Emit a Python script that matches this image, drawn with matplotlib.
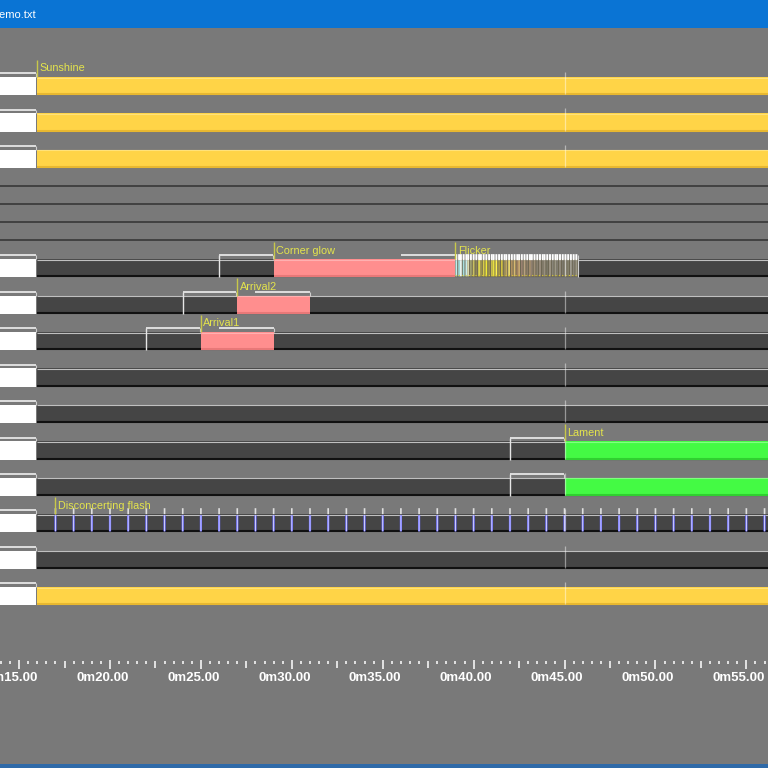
import matplotlib.pyplot as plt
from matplotlib.transforms import offset_copy

# ---------------------------------- data ---------------------------------- #

view_start, view_end = 13.95, 56.19     # seconds visible in the window
show_end = 60.0
fade = 3.0                               # fade time drawn before / after a cue
cursor_time = 45.0

# track heights, top to bottom (1 = normal track, 0.5 = collapsed empty track)
track_size = [1, 1, 1, 0.5, 0.5, 0.5, 0.5, 1, 1, 1, 1, 1, 1, 1, 1, 1, 1]

cue_track = [0, 1, 2, 16, 7, 8, 9, 10, 11, 12, 13, 14, 15, 7, 8, 9, 12, 13]
cue_start = [16, 16, 16, 16, 16, 16, 16, 16, 16, 16, 16, 16, 16, 29, 27, 25, 45, 45]
cue_end = [60, 60, 60, 60, 60, 60, 60, 60, 60, 60, 60, 60, 60, 39, 31, 29, 60, 60]
cue_color = ['yellow', 'yellow', 'yellow', 'yellow', 'dark', 'dark', 'dark', 'dark',
             'dark', 'dark', 'dark', 'dark', 'dark', 'pink', 'pink', 'pink',
             'green', 'green']
cue_label = ['Sunshine', '', '', '', '', '', '', '', '', '', '', '', '',
             'Corner glow', 'Arrival2', 'Arrival1', 'Lament', '']

# flicker effect on the Corner glow track
flicker_track = 7
flicker_start, flicker_end = 39.0, 45.75
flicker_times = [39.05, 39.2, 39.3, 39.45, 39.6, 39.7, 39.85, 40.0, 40.15, 40.3,
                 40.4, 40.55, 40.7, 40.85, 41.0, 41.1, 41.25, 41.4, 41.55, 41.7,
                 41.8, 41.95, 42.1, 42.25, 42.4, 42.5, 42.65, 42.8, 42.95, 43.1,
                 43.2, 43.35, 43.5, 43.65, 43.8, 43.9, 44.05, 44.2, 44.35, 44.5,
                 44.6, 44.75, 44.9, 45.05, 45.2, 45.35, 45.5, 45.65]
flicker_color = ['#bfeeee', '#9fd8d8', '#e8f4f0', '#a8dede', '#c8ecec', '#d8d8b0',
                 '#a0a070', '#c8c060', '#8c8458', '#e0d850', '#a49a50', '#d8cc48',
                 '#f0e838', '#9c9050', '#c8bc48', '#e8e040', '#fff050', '#a89848',
                 '#d0c040', '#9a8c58', '#c0a860', '#e8d870', '#b09060', '#d8b870',
                 '#a08060', '#c8a870', '#988070', '#b8a080', '#8c7c68', '#a89070',
                 '#908070', '#a09078', '#888070', '#9c9080', '#807868', '#989080',
                 '#7c7868', '#a09888', '#888478', '#9c9888', '#807c70', '#948c80',
                 '#7c786c', '#9c988c', '#84806c', '#a09c90', '#888478', '#9c9888']

# strobe track
flash_track = 14
flash_label = 'Disconcerting flash'
flash_times = [17, 18, 19, 20, 21, 22, 23, 24, 25, 26, 27, 28, 29, 30, 31, 32, 33,
               34, 35, 36, 37, 38, 39, 40, 41, 42, 43, 44, 45, 46, 47, 48, 49, 50,
               51, 52, 53, 54, 55, 56]

time_labels = [15, 20, 25, 30, 35, 40, 45, 50, 55]

# --------------------------------- styling -------------------------------- #

fills = {'yellow': '#ffd447', 'dark': '#454545', 'pink': '#ff8e8e', 'green': '#44fa44'}
tops = {'yellow': '#ffe27a', 'dark': '#c0c0c0', 'pink': '#ffb0b0', 'green': '#80ff80'}
bottoms = {'yellow': '#e8b830', 'dark': '#111111', 'pink': '#e87878', 'green': '#30d030'}

bg = '#797979'
label_yellow = '#e4e44c'
marker_yellow = '#c8c84a'
fade_white = '#e6e6e6'

row_pitch = 36.43
first_row_top = 58.8
head = row_pitch / 2
px = 1 / 18.18          # one pixel in seconds

plt.rcParams['font.family'] = ['Liberation Sans', 'DejaVu Sans']

fig = plt.figure(figsize=(7.68, 7.68), dpi=100, facecolor=bg)
ax = fig.add_axes([0, 0, 1, 1])
ax.set_facecolor(bg)
ax.set_xlim(view_start, view_end)
ax.set_ylim(768, 0)
ax.axis('off')

# row positions
row_top = []
y = first_row_top
for s in track_size:
    row_top.append(y)
    y += s * row_pitch

# collapsed tracks: just a dark line at the bottom
for i, s in enumerate(track_size):
    if s < 1:
        ax.hlines(row_top[i] + s * row_pitch - 0.5, view_start, view_end,
                  color='#383838', lw=1.2, zorder=1)

# white pre-show box on every normal track
for i, s in enumerate(track_size):
    if s == 1:
        bt = row_top[i] + head
        ax.barh(bt + head / 2, 16 - px - (view_start - 1), left=view_start - 1,
                height=head, color='white', lw=0, zorder=2)

# cue bars
for k in range(len(cue_track)):
    bt = row_top[cue_track[k]] + head
    s, e, c = cue_start[k], cue_end[k], cue_color[k]
    z = 3 if c == 'dark' else 4
    ax.barh(bt + head / 2, e - s, left=s, height=head, color=fills[c], lw=0, zorder=z)
    ax.hlines(bt + 0.5, s, e, color=tops[c], lw=0.8, zorder=z)
    ax.hlines(bt + head - 1.0, s, e, color=bottoms[c], lw=1.5, zorder=z)

# flicker block
bt = row_top[flicker_track] + head
ax.barh(bt + head / 2, flicker_end - flicker_start, left=flicker_start, height=head,
        color='#6a6450', lw=0, zorder=5)
ax.vlines(flicker_times, bt + 1, bt + head - 1, colors=flicker_color, lw=1.3,
          zorder=5, snap=False)
ax.vlines(flicker_times, bt - 5, bt + 1, colors='white', lw=1.4, zorder=5, snap=False)
ax.hlines(bt + head - 2, flicker_start, flicker_end, color='#d8c830', lw=0.8,
          linestyles=(0, (1, 2)), zorder=5)
ax.vlines(flicker_end, bt - 4, bt + head, color='#d0d0d0', lw=0.8, zorder=5)

# strobe flashes
bt = row_top[flash_track] + head
ax.vlines(flash_times, bt + 1, bt + head - 1, color='#6c6cff', lw=1.6, zorder=5,
          snap=False)
ax.vlines(flash_times, bt + 1, bt + head - 1, color='#dcdcff', lw=0.6, zorder=5,
          snap=False)
ax.vlines(flash_times, bt - 6, bt, color='#e0e0e0', lw=1.2, zorder=5, snap=False)

# cursor line across normal tracks
for i, s in enumerate(track_size):
    if s == 1:
        bt = row_top[i] + head
        ax.vlines(cursor_time, bt - 5, bt + head - 1, color='white', lw=0.9,
                  alpha=0.45, zorder=6)

# fade lines
for k in range(len(cue_track)):
    bt = row_top[cue_track[k]] + head
    ly = bt - 3.8
    s, e = cue_start[k], cue_end[k]
    ax.hlines(ly, s - fade, s - px, color=fade_white, lw=1.3, zorder=7)
    ax.vlines(s - fade, ly, bt + head, color=fade_white, lw=1.0, zorder=7)
    ax.vlines(s - px, ly, bt, color='#cfcfcf', lw=0.8, zorder=7)
    if e < show_end:
        ax.hlines(ly, e - fade, e, color=fade_white, lw=1.3, zorder=7)
        ax.vlines(e, ly, bt, color='#cfcfcf', lw=0.8, zorder=7)

# cue markers and labels
marker_times = [cue_start[k] for k in range(len(cue_track)) if cue_label[k]]
marker_rows = [cue_track[k] for k in range(len(cue_track)) if cue_label[k]]
marker_text = [cue_label[k] for k in range(len(cue_track)) if cue_label[k]]
marker_times += [flicker_start, flash_times[0]]
marker_rows += [flicker_track, flash_track]
marker_text += ['Flicker', flash_label]

for t, r, lab in zip(marker_times, marker_rows, marker_text):
    bt = row_top[r] + head
    ax.vlines(t, bt - head + 1, bt, color=marker_yellow, lw=1.0, zorder=8)
    ax.text(t + 2.5 * px, bt - head / 2 + 0.5, lab, color=label_yellow, fontsize=7.8,
            va='center', ha='left', zorder=9)

# time ruler
ruler_y = 661
half_sec = [t / 2 for t in range(2 * 14, 2 * 57)]
for t in half_sec:
    if t % 5 == 0:
        ax.vlines(t, ruler_y - 1, ruler_y + 8, color='white', lw=1.1)
    elif t % 2.5 == 0:
        ax.vlines(t, ruler_y, ruler_y + 7, color='white', lw=1.1)
    else:
        ax.vlines(t, ruler_y, ruler_y + 2.5, color='white', lw=1.1)

lab_tr = offset_copy(ax.transData, fig=fig, x=-7.5, y=0, units='dots')
for t in time_labels:
    ax.text(t, 678, '0m%05.2f' % t, color='white', fontsize=9.5, fontweight='bold',
            ha='center', va='center', transform=lab_tr)

# window chrome
ax.axhspan(0, 28, color='#0a74d4', lw=0, zorder=10)
ax.axhspan(764, 768, color='#2f6aa8', lw=0, zorder=10)
fig.text(-9.0 / 768, 1 - 15 / 768, 'Demo.txt', color='white', fontsize=8,
         va='center', ha='left', zorder=11)

fig.savefig('out.png', dpi=100, facecolor=bg)
